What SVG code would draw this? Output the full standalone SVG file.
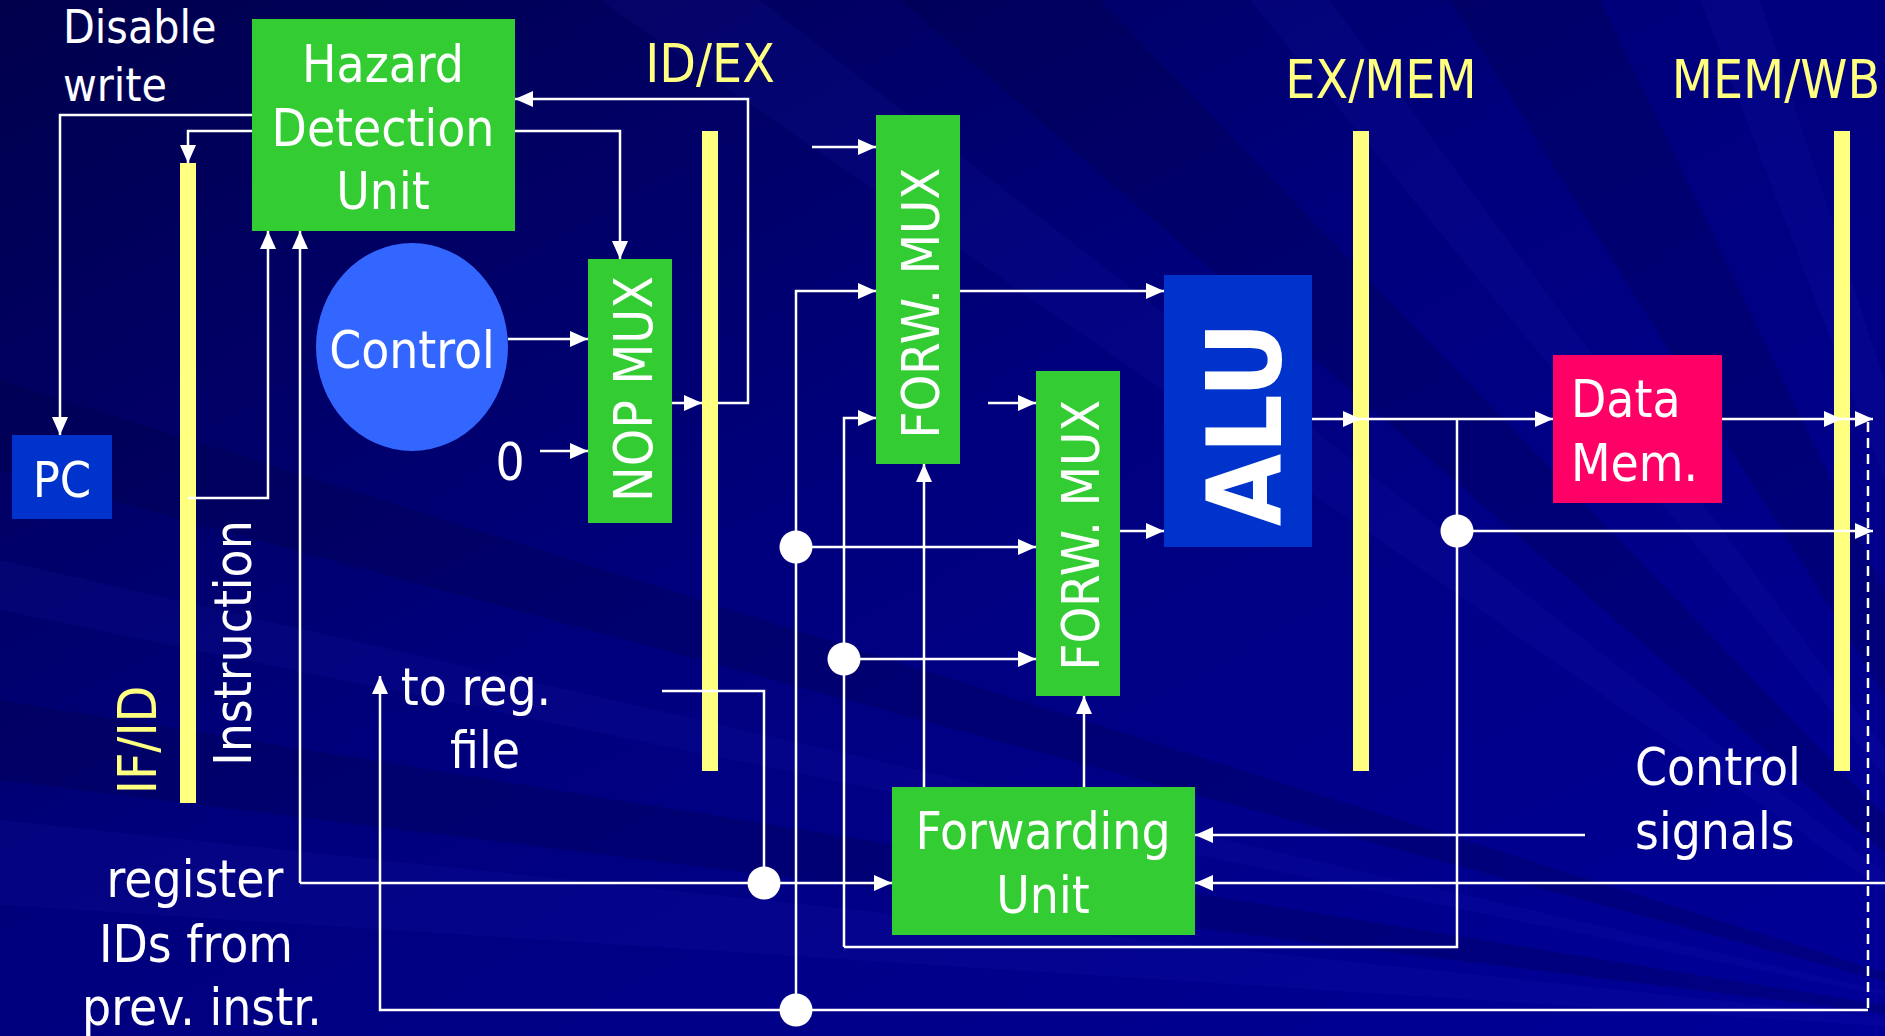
<svg xmlns="http://www.w3.org/2000/svg" width="1885" height="1036" viewBox="0 0 1885 1036">
<defs>
<linearGradient id="bg" x1="0" y1="0" x2="1" y2="1">
<stop offset="0" stop-color="#00004C"/>
<stop offset="0.45" stop-color="#00007C"/>
<stop offset="1" stop-color="#000098"/>
</linearGradient>
<marker id="ah" markerUnits="userSpaceOnUse" markerWidth="18" markerHeight="16" refX="18" refY="8" orient="auto">
<path d="M0,0 L18,8 L0,16 z" fill="#FFFFFF"/>
</marker>
<style>
.t{font-family:'DejaVu Sans Condensed','DejaVu Sans',sans-serif;font-stretch:condensed;fill:#FFFFFF;font-size:51px}
.y{fill:#FFFF80;font-size:53px}
.m{text-anchor:middle}
.w{fill:none;stroke:#FFFFFF;stroke-width:2.5}
.a{marker-end:url(#ah)}
.g{fill:#33CC33}
.bar{fill:#FFFF80}
.dot{fill:#FFFFFF}
.lt{fill:#2A2AD0;opacity:0.09}
.dk{fill:#000030;opacity:0.2}
</style>
</defs>
<rect width="1885" height="1036" fill="url(#bg)"/>
<g id="background-rays">
<polygon class="lt" points="2100,1040 0,820 0,905"/>
<polygon class="dk" points="2100,1040 0,700 0,780"/>
<polygon class="lt" points="2100,1040 0,560 0,610"/>
<polygon class="dk" points="2100,1040 0,380 0,470"/>
<polygon class="lt" points="2100,1040 600,0 760,0"/>
<polygon class="dk" points="2100,1040 900,0 1100,0"/>
<polygon class="lt" points="2100,1040 1250,0 1330,0"/>
<polygon class="dk" points="2100,1040 1450,0 1600,0"/>
<polygon class="lt" points="2100,1040 1700,0 1760,0"/>
</g>
<g id="pipeline-registers">
<rect class="bar" x="180" y="163" width="16" height="640"/>
<rect class="bar" x="702" y="131" width="16" height="640"/>
<rect class="bar" x="1353" y="131" width="16" height="640"/>
<rect class="bar" x="1834" y="131" width="16" height="640"/>
</g>
<g id="connectors">
<path class="w a" d="M252,115 H60 V435"/>
<path class="w a" d="M252,131 H188 V163"/>
<path class="w a" d="M188,498 H268 V231"/>
<path class="w a" d="M515,131 H620 V259"/>
<path class="w a" d="M718,403 H748 V99 H515"/>
<path class="w a" d="M508,339 H588"/>
<path class="w a" d="M540,451 H588"/>
<path class="w a" d="M672,403 H702"/>
<path class="w a" d="M812,147 H876"/>
<path class="w a" d="M796,1010 V291 H876"/>
<path class="w a" d="M844,947 V418 H876"/>
<path class="w" d="M1457,419 V947 H844"/>
<path class="w a" d="M960,291 H1164"/>
<path class="w a" d="M988,403 H1036"/>
<path class="w a" d="M796,547 H1036"/>
<path class="w a" d="M844,659 H1036"/>
<path class="w a" d="M1120,531 H1164"/>
<path class="w a" d="M1312,419 H1361"/>
<path class="w a" d="M1361,419 H1553"/>
<path class="w a" d="M1722,419 H1842"/>
<path class="w a" d="M1842,419 H1873"/>
<path class="w a" d="M1457,531 H1873"/>
<path class="w" d="M1868,422 V1010" stroke-dasharray="10 6"/>
<path class="w a" d="M1868,1010 H380 V676"/>
<path class="w a" d="M300,883 V231"/>
<path class="w a" d="M300,883 H892"/>
<path class="w" d="M662,691 H764 V883"/>
<path class="w a" d="M924,787 V464"/>
<path class="w a" d="M1084,787 V696"/>
<path class="w a" d="M1585,835 H1195"/>
<path class="w a" d="M1885,883 H1195"/>
<circle class="dot" cx="796" cy="547" r="16.5"/>
<circle class="dot" cx="844" cy="659" r="16.5"/>
<circle class="dot" cx="764" cy="883" r="16.5"/>
<circle class="dot" cx="796" cy="1010" r="16.5"/>
<circle class="dot" cx="1457" cy="531" r="16.5"/>
</g>
<g id="hazard-detection-unit">
<rect class="g" x="252" y="19" width="263" height="212"/>
<text class="t m" x="383" y="82">Hazard</text>
<text class="t m" x="383" y="146">Detection</text>
<text class="t m" x="383" y="209">Unit</text>
</g>
<g id="pc">
<rect x="12" y="435" width="100" height="84" fill="#0033CC"/>
<text class="t m" x="62" y="497" style="font-size:50px">PC</text>
</g>
<g id="control">
<ellipse cx="412" cy="347" rx="96" ry="104" fill="#3366FF"/>
<text class="t m" x="412" y="368">Control</text>
</g>
<g id="nop-mux">
<rect class="g" x="588" y="259" width="84" height="264"/>
<text class="t m" transform="translate(652,389) rotate(-90)" style="font-size:53px">NOP MUX</text>
</g>
<g id="forw-mux-1">
<rect class="g" x="876" y="115" width="84" height="349"/>
<text class="t m" transform="translate(939,303) rotate(-90)" style="font-size:52px">FORW. MUX</text>
</g>
<g id="forw-mux-2">
<rect class="g" x="1036" y="371" width="84" height="325"/>
<text class="t m" transform="translate(1099,535) rotate(-90)" style="font-size:52px">FORW. MUX</text>
</g>
<g id="alu">
<rect x="1164" y="275" width="148" height="272" fill="#0033CC"/>
<text class="t m" transform="translate(1281,424) rotate(-90)" style="font-size:104px;font-weight:bold">ALU</text>
</g>
<g id="data-mem">
<rect x="1553" y="355" width="169" height="148" fill="#FF0066"/>
<text class="t" x="1571" y="417">Data</text>
<text class="t" x="1571" y="481">Mem.</text>
</g>
<g id="forwarding-unit">
<rect class="g" x="892" y="787" width="303" height="148"/>
<text class="t m" x="1043" y="849">Forwarding</text>
<text class="t m" x="1043" y="913">Unit</text>
</g>
<g id="labels">
<text class="t" x="63" y="43" style="font-size:46px">Disable</text>
<text class="t" x="63" y="101" style="font-size:46px">write</text>
<text class="t m" x="510" y="480">0</text>
<text class="t y m" x="710" y="82">ID/EX</text>
<text class="t y m" x="1381" y="98">EX/MEM</text>
<text class="t y m" x="1776" y="98">MEM/WB</text>
<text class="t y m" transform="translate(156,740) rotate(-90)">IF/ID</text>
<text class="t m" transform="translate(251,643) rotate(-90)">Instruction</text>
<text class="t m" x="476" y="705">to reg.</text>
<text class="t m" x="485" y="768">file</text>
<text class="t m" x="195" y="897">register</text>
<text class="t m" x="196" y="962">IDs from</text>
<text class="t m" x="202" y="1025">prev. instr.</text>
<text class="t" x="1635" y="785">Control</text>
<text class="t" x="1635" y="849">signals</text>
</g>
</svg>
